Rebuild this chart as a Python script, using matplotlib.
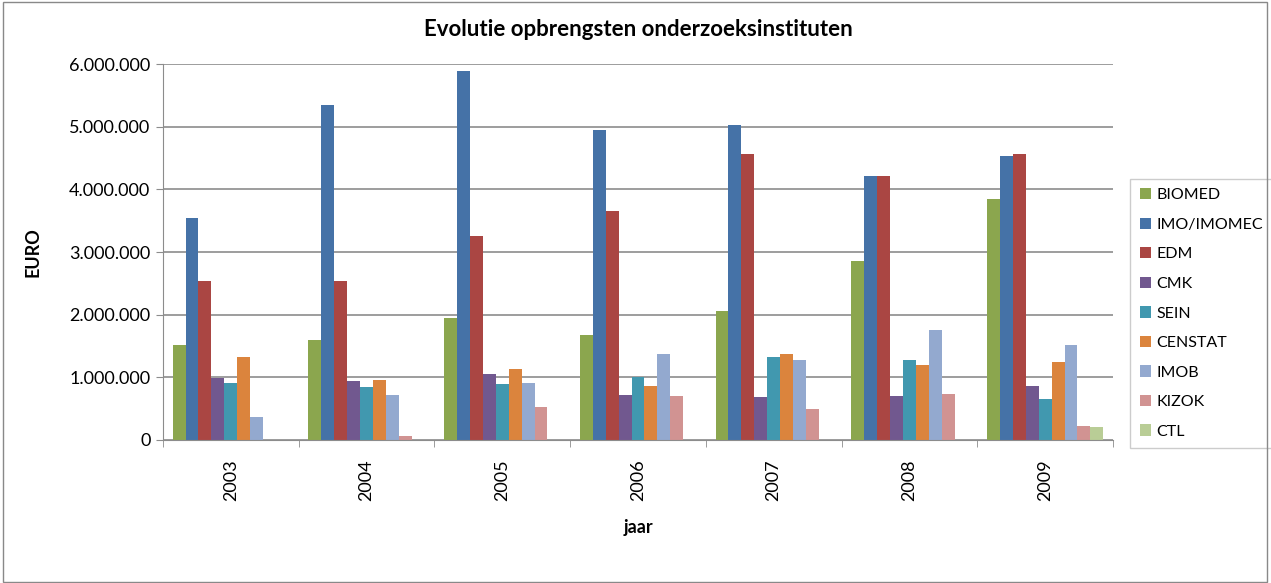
import matplotlib
matplotlib.use("Agg")
import matplotlib.pyplot as plt
from matplotlib.patches import Rectangle
from matplotlib.ticker import FuncFormatter
import numpy as np

years = ["2003", "2004", "2005", "2006", "2007", "2008", "2009"]
institutes = ["BIOMED", "IMO/IMOMEC", "EDM", "CMK", "SEIN", "CENSTAT", "IMOB", "KIZOK", "CTL"]

# values in euro
biomed = [1520000, 1600000, 1940000, 1670000, 2060000, 2850000, 3840000]
imo = [3540000, 5340000, 5890000, 4950000, 5020000, 4210000, 4540000]
edm = [2540000, 2530000, 3250000, 3650000, 4570000, 4210000, 4570000]
cmk = [990000, 940000, 1050000, 720000, 680000, 700000, 860000]
sein = [910000, 850000, 900000, 1010000, 1320000, 1280000, 650000]
censtat = [1330000, 960000, 1130000, 860000, 1370000, 1190000, 1250000]
imob = [360000, 720000, 910000, 1370000, 1270000, 1750000, 1520000]
kizok = [0, 60000, 520000, 700000, 500000, 740000, 230000]
ctl = [0, 0, 0, 0, 0, 0, 200000]

series = [biomed, imo, edm, cmk, sein, censtat, imob, kizok, ctl]
colors = ["#8BA64E", "#4572A7", "#AA4643", "#71588F", "#4198AF",
          "#DB843D", "#93A9CF", "#D19392", "#B9CD96"]

plt.rcParams['font.family'] = ['Lato', 'DejaVu Sans']

fig = plt.figure(figsize=(12.71, 5.83), dpi=100)
fig.patches.append(Rectangle((0.002, 0.002), 0.995, 0.995, transform=fig.transFigure,
                             fill=False, edgecolor='#898989', linewidth=1))
ax = fig.add_axes([0.1282, 0.2453, 0.7475, 0.6449])

n = len(series)
gap = 1.5
w = 1.0 / (n + gap)
x = np.arange(len(years))
for i, (vals, name, c) in enumerate(zip(series, institutes, colors)):
    offs = (i - (n - 1) / 2) * w
    ax.bar(x + offs, vals, width=w, color=c, label=name, linewidth=0)

ax.set_xlim(-0.5, len(years) - 0.5)
ax.set_ylim(0, 6000000)
ax.set_yticks(np.arange(0, 6000001, 1000000))
ax.yaxis.set_major_formatter(FuncFormatter(lambda v, p: f"{int(v):,}".replace(",", ".")))
ax.yaxis.grid(True, color='#8c8c8c', linewidth=1.2)
ax.set_axisbelow(True)

ax.set_xticks(x)
ax.set_xticklabels(years, rotation=90, fontsize=13)
ax.set_xticks(np.arange(-0.5, len(years)), minor=True)
ax.tick_params(axis='x', which='major', length=0, pad=14)
ax.tick_params(axis='x', which='minor', length=5, color='#8c8c8c')
ax.tick_params(axis='y', labelsize=13, length=5, color='#8c8c8c', pad=4)

for s in ['top', 'right']:
    ax.spines[s].set_visible(False)
for s in ['left', 'bottom']:
    ax.spines[s].set_color('#8c8c8c')

ax.set_title("Evolutie opbrengsten onderzoeksinstituten", fontsize=16, fontweight='bold', pad=20)
ax.set_ylabel("EURO", fontsize=13, fontweight='bold', labelpad=20)
ax.set_xlabel("jaar", fontsize=13, fontweight='bold', labelpad=13)

leg = ax.legend(loc='upper left', bbox_to_anchor=(1.018, 0.695), borderaxespad=0,
                fontsize=11.5, frameon=True, fancybox=False, edgecolor='#c0c0c0',
                handlelength=0.7, handleheight=0.7, handletextpad=0.35,
                labelspacing=0.96, borderpad=0.6)
leg.get_frame().set_linewidth(1)

fig.savefig("out.png", dpi=100)
